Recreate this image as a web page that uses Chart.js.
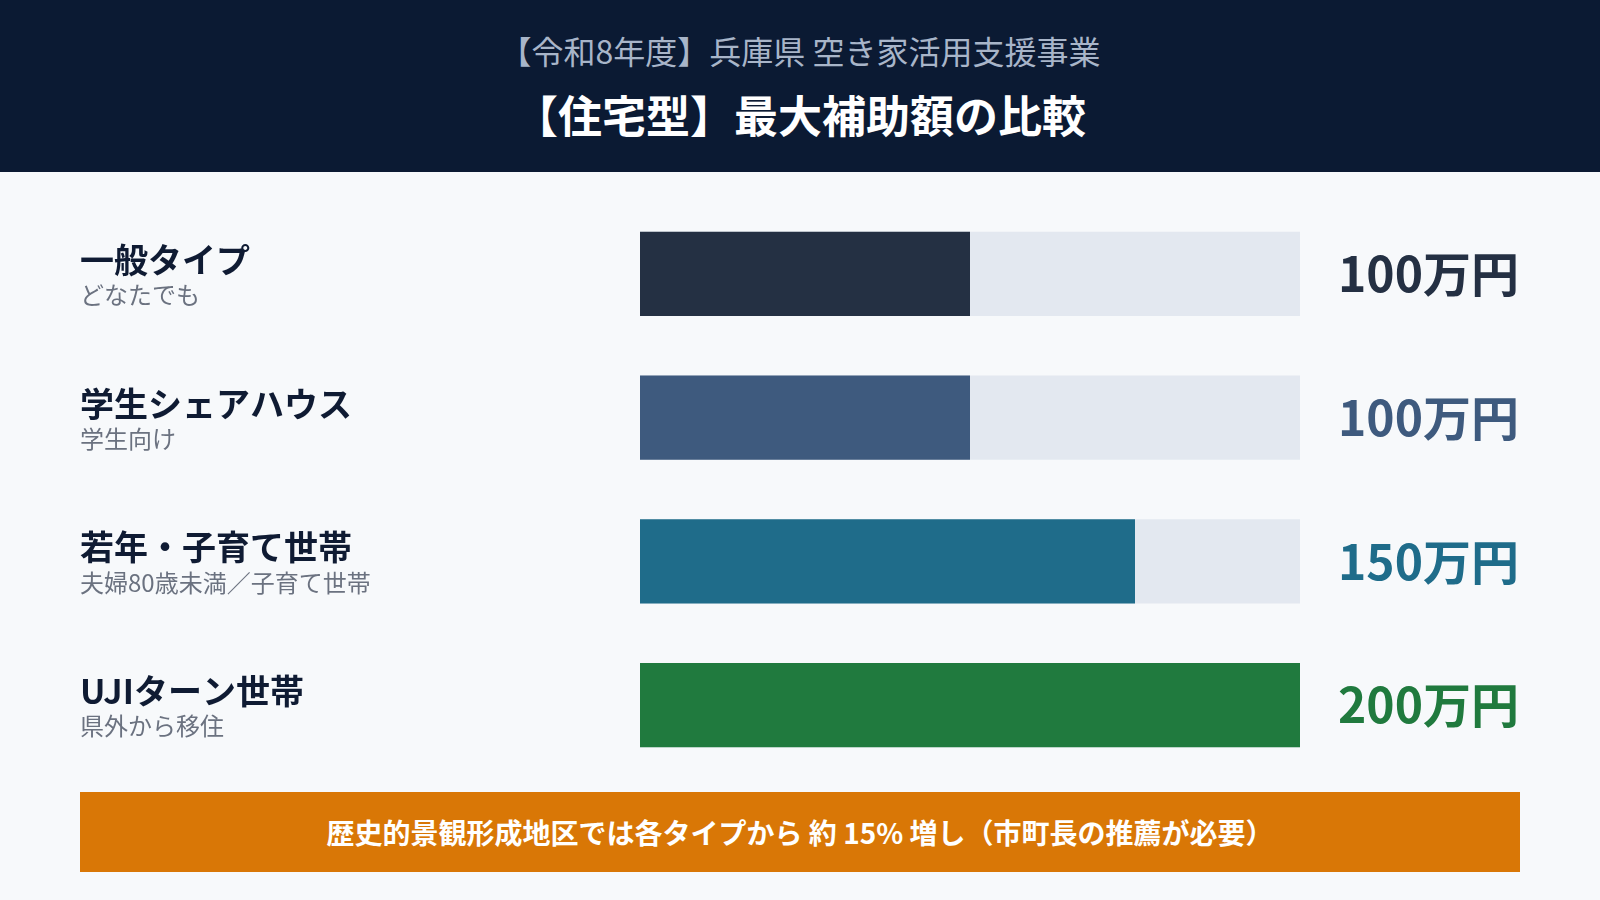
<!DOCTYPE html>
<html lang="ja">
<head>
<meta charset="utf-8">
<script src="https://cdn.jsdelivr.net/npm/chart.js@4"></script>
<style>
  html, body { margin: 0; padding: 0; }
  body { width: 1600px; height: 900px; background: #f7f9fb; position: relative; overflow: hidden;
         font-family: "Noto Sans CJK JP", "Noto Sans", sans-serif; }
  #header { position: absolute; left: 0; top: 0; width: 1600px; height: 172px; background: #0b1a33; }
  #sub { position: absolute; left: 0; width: 1600px; top: 28px; text-align: center; color: #a8b5c9;
         font-size: 32px; line-height: 44px; font-weight: 400; }
  #title { position: absolute; left: 0; width: 1600px; top: 85px; text-align: center; color: #ffffff;
           font-size: 44px; line-height: 58px; font-weight: 700; }
  #chartWrap { position: absolute; left: 0; top: 0; width: 1600px; height: 900px; }
  #banner { position: absolute; left: 80px; top: 792px; width: 1440px; height: 80px; background: #d97706;
            color: #ffffff; font-size: 28px; font-weight: 700; line-height: 80px; text-align: center; }
</style>
</head>
<body>
<div id="header">
  <div id="sub">【令和8年度】兵庫県 空き家活用支援事業</div>
  <div id="title">【住宅型】最大補助額の比較</div>
</div>
<div id="chartWrap"><canvas id="c" width="1600" height="900"></canvas></div>
<div id="banner">歴史的景観形成地区では各タイプから 約 15% 増し（市町長の推薦が必要）</div>
<script>
const CATEGORIES = ["一般タイプ", "学生シェアハウス", "若年・子育て世帯", "UJIターン世帯"];
const SUBTITLES = ["どなたでも", "学生向け", "夫婦80歳未満／子育て世帯", "県外から移住"];
const VALUES = [100, 100, 150, 200];          // 万円
const TRACK_MAX = [200, 200, 200, 200];       // 万円 (scale maximum)
const VALUE_LABELS = ["100万円", "100万円", "150万円", "200万円"];
const BAR_COLORS = ["#243043", "#3e5a7e", "#1f6c8a", "#207a3e"];
const TRACK_COLOR = "#e3e8f0";

const FONT = '"Noto Sans CJK JP", "Noto Sans", sans-serif';

const labelPlugin = {
  id: 'rowLabels',
  afterDatasetsDraw(chart) {
    const ctx = chart.ctx;
    const y = chart.scales.y;
    const x = chart.scales.x;
    ctx.save();
    ctx.textBaseline = 'middle';
    CATEGORIES.forEach((cat, i) => {
      const cy = y.getPixelForValue(i);
      ctx.textAlign = 'left';
      ctx.fillStyle = '#0f1b33';
      ctx.font = '700 34px ' + FONT;
      ctx.fillText(cat, 80, cy - 14);
      ctx.fillStyle = '#6b7280';
      ctx.font = '400 24px ' + FONT;
      ctx.fillText(SUBTITLES[i], 80, cy + 21);
      ctx.fillStyle = BAR_COLORS[i];
      ctx.font = '700 48px ' + FONT;
      ctx.fillText(VALUE_LABELS[i], x.right + 38, cy);
    });
    ctx.restore();
  }
};

new Chart(document.getElementById('c'), {
  type: 'bar',
  data: {
    labels: CATEGORIES,
    datasets: [
      { label: '最大補助額', data: VALUES, backgroundColor: BAR_COLORS, order: 0,
        grouped: false, barPercentage: 1, categoryPercentage: 0.585, borderWidth: 0 },
      { label: '上限', data: TRACK_MAX, backgroundColor: TRACK_COLOR, order: 1,
        grouped: false, barPercentage: 1, categoryPercentage: 0.585, borderWidth: 0 }
    ]
  },
  options: {
    indexAxis: 'y',
    responsive: false,
    animation: false,
    layout: { padding: { left: 640, right: 300, top: 202, bottom: 123 } },
    plugins: { legend: { display: false }, tooltip: { enabled: false }, title: { display: false } },
    scales: {
      x: { display: false, min: 0, max: 200 },
      y: { display: false }
    }
  },
  plugins: [labelPlugin]
});
</script>
</body>
</html>
